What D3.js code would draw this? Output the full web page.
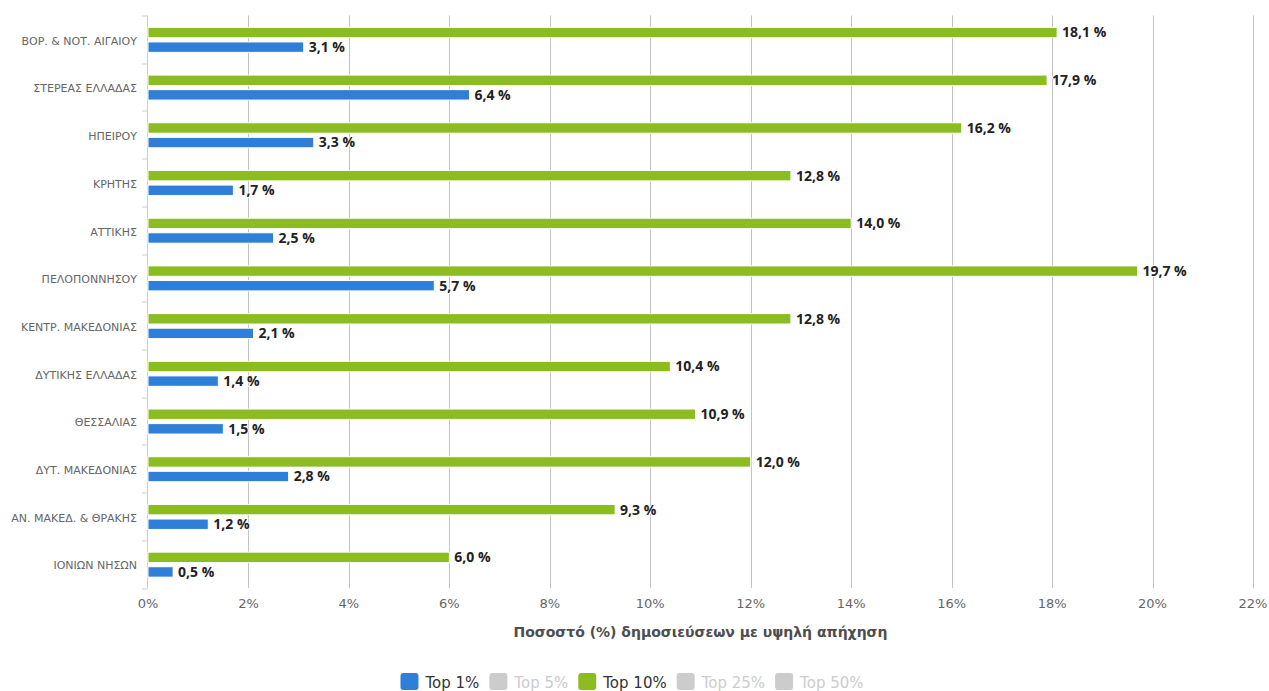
<!DOCTYPE html>
<html>
<head>
<meta charset="utf-8">
<script src="https://cdn.jsdelivr.net/npm/d3@7"></script>
<style>
  body { margin: 0; background: #fff; }
  svg { display: block; font-family: "DejaVu Sans", sans-serif; }
</style>
</head>
<body>
<div id="chart"></div>
<script>
"use strict";

// regions, top to bottom
const categories = [
  "ΒΟΡ. & ΝΟΤ. ΑΙΓΑΙΟΥ", "ΣΤΕΡΕΑΣ ΕΛΛΑΔΑΣ", "ΗΠΕΙΡΟΥ", "ΚΡΗΤΗΣ", "ΑΤΤΙΚΗΣ",
  "ΠΕΛΟΠΟΝΝΗΣΟΥ", "ΚΕΝΤΡ. ΜΑΚΕΔΟΝΙΑΣ", "ΔΥΤΙΚΗΣ ΕΛΛΑΔΑΣ", "ΘΕΣΣΑΛΙΑΣ",
  "ΔΥΤ. ΜΑΚΕΔΟΝΙΑΣ", "ΑΝ. ΜΑΚΕΔ. & ΘΡΑΚΗΣ", "ΙΟΝΙΩΝ ΝΗΣΩΝ"
];
const top10 = [18.1, 17.9, 16.2, 12.8, 14.0, 19.7, 12.8, 10.4, 10.9, 12.0, 9.3, 6.0];
const top1  = [3.1, 6.4, 3.3, 1.7, 2.5, 5.7, 2.1, 1.4, 1.5, 2.8, 1.2, 0.5];
const xTicks = [0, 2, 4, 6, 8, 10, 12, 14, 16, 18, 20, 22];
const legendItems = ["Top 1%", "Top 5%", "Top 10%", "Top 25%", "Top 50%"];
const legendVisible = [true, false, true, false, false];

const W = 1269, H = 691;
const margin = {top: 15.5, right: 16, bottom: 103, left: 148};
const plotW = W - margin.left - margin.right,
      plotH = H - margin.top - margin.bottom;

const svg = d3.select("#chart").append("svg")
    .attr("width", W)
    .attr("height", H);

const g = svg.append("g")
    .attr("transform", "translate(" + margin.left + "," + margin.top + ")");

const x = d3.scaleLinear().domain([0, 22]).range([0, plotW]);
const y0 = d3.scaleBand().domain(categories).range([0, plotH]);
const bw = y0.bandwidth();
const series = [
  {key: "top10", values: top10, color: "#8bbc21"},
  {key: "top1", values: top1, color: "#2f7ed8"}
];
const y1 = d3.scaleBand()
    .domain(series.map(d => d.key))
    .range([bw / 2 - 12, bw / 2 + 13])
    .paddingInner(0.286);

// grid lines
g.append("g")
  .selectAll("line")
  .data(xTicks.slice(1))
  .join("line")
    .attr("x1", d => Math.round(x(d)) + 0.5)
    .attr("x2", d => Math.round(x(d)) + 0.5)
    .attr("y1", 0)
    .attr("y2", plotH)
    .attr("stroke", "#c4c4c4")
    .attr("stroke-width", 1);

// x tick labels
g.append("g")
  .selectAll("text")
  .data(xTicks)
  .join("text")
    .attr("x", d => x(d))
    .attr("y", plotH + 20)
    .attr("text-anchor", "middle")
    .attr("font-size", 13)
    .attr("fill", "#666")
    .text(d => d + "%");

// x axis title
g.append("text")
    .attr("x", plotW / 2)
    .attr("y", plotH + 49)
    .attr("text-anchor", "middle")
    .attr("font-size", 14)
    .attr("font-weight", "bold")
    .attr("fill", "#4d4d4d")
    .text("Ποσοστό (%) δημοσιεύσεων με υψηλή απήχηση");

// y axis line and ticks
const yAxis = g.append("g").attr("stroke", "#c0d0e0");
yAxis.append("line")
    .attr("x1", -0.5).attr("x2", -0.5)
    .attr("y1", 0).attr("y2", plotH);
yAxis.selectAll(".tick")
  .data(d3.range(categories.length + 1))
  .join("line")
    .attr("class", "tick")
    .attr("x1", -6).attr("x2", -0.5)
    .attr("y1", i => Math.round(i * bw) + 0.5)
    .attr("y2", i => Math.round(i * bw) + 0.5);

// category labels
g.append("g")
  .selectAll("text")
  .data(categories)
  .join("text")
    .attr("x", -11)
    .attr("y", d => y0(d) + bw / 2 + 1.5)
    .attr("dy", "0.35em")
    .attr("text-anchor", "end")
    .attr("font-size", 11)
    .attr("fill", "#666")
    .text(d => d);

// bars
const groups = g.append("g")
  .selectAll("g")
  .data(series)
  .join("g")
    .attr("fill", d => d.color);

groups.selectAll("rect")
  .data(s => s.values.map((v, i) => ({key: s.key, cat: categories[i], v: v})))
  .join("rect")
    .attr("x", 0)
    .attr("y", d => y0(d.cat) + y1(d.key))
    .attr("width", d => x(d.v))
    .attr("height", y1.bandwidth())
    .attr("stroke", "#fff")
    .attr("stroke-width", 1);

// data labels
const fmt = v => v.toFixed(1).replace(".", ",") + " %";
groups.selectAll("text")
  .data(s => s.values.map((v, i) => ({key: s.key, cat: categories[i], v: v})))
  .join("text")
    .attr("x", d => x(d.v) + 5)
    .attr("y", d => y0(d.cat) + y1(d.key) + y1.bandwidth() / 2)
    .attr("dy", "0.35em")
    .attr("font-family", "'Open Sans', sans-serif")
    .attr("font-size", 14)
    .attr("font-weight", "bold")
    .attr("fill", "#222")
    .attr("stroke", "#fff")
    .attr("stroke-width", 2)
    .attr("paint-order", "stroke")
    .text(d => fmt(d.v));

// legend
const legendColors = ["#2f7ed8", "#ccc", "#8bbc21", "#ccc", "#ccc"];
const legend = svg.append("g");
let lx = 0;
legendItems.forEach((name, i) => {
  const item = legend.append("g").attr("transform", "translate(" + lx + ",0)");
  item.append("rect")
      .attr("x", 0).attr("y", 0)
      .attr("width", 18).attr("height", 17)
      .attr("rx", 3)
      .attr("fill", legendColors[i]);
  const t = item.append("text")
      .attr("x", 25)
      .attr("y", 15)
      .attr("font-size", 15)
      .attr("fill", legendVisible[i] ? "#333" : "#ccc")
      .text(name);
  lx += 25 + t.node().getComputedTextLength() + 10;
});
lx -= 10;
legend.attr("transform", "translate(" + (632 - lx / 2) + ",673)");
</script>
</body>
</html>
